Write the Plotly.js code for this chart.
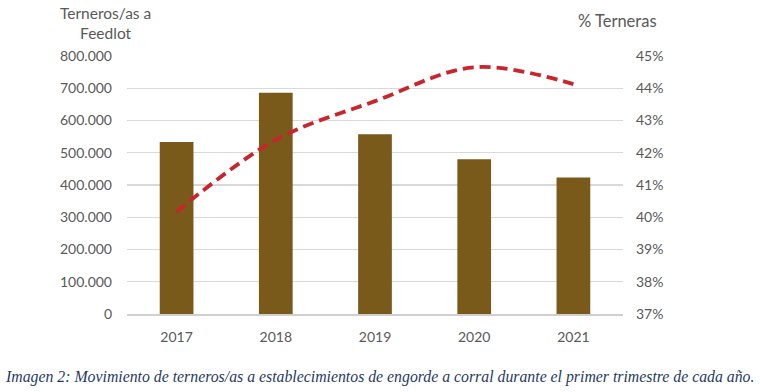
<!DOCTYPE html>
<html><head><meta charset="utf-8">
<script src="https://cdn.plot.ly/plotly-3.0.1.min.js"></script>
<style>body{margin:0;background:#fff}#c{width:760px;height:392px}</style>
</head><body><div id="c"></div>
<script>
const years = ['2017','2018','2019','2020','2021'];
const terneros = [533000, 686000, 557000, 480000, 423000];
const pctTerneras = [40.17, 42.4, 43.6, 44.65, 44.13];
const leftTitle = 'Terneros/as a<br>Feedlot';
const rightTitle = '% Terneras';
const caption = 'Imagen 2: Movimiento de terneros/as a establecimientos de engorde a corral durante el primer trimestre de cada año.';

const gray = '#595959';
const data = [
  {type:'bar', x:years, y:terneros, marker:{color:'#7a5a1a'}, yaxis:'y', hoverinfo:'skip'},
  {type:'scatter', mode:'lines', x:years, y:pctTerneras, yaxis:'y2',
   line:{color:'#c8262c', width:3.8, dash:'11px,6px', shape:'spline', smoothing:1}, hoverinfo:'skip'}
];
const layout = {
  width:760, height:392,
  margin:{l:127, r:137, t:56, b:78},
  paper_bgcolor:'#fff', plot_bgcolor:'#fff',
  showlegend:false, bargap:0.66,
  separators:',.',
  font:{family:'Lato, sans-serif', size:14, color:gray},
  xaxis:{showgrid:false, showline:true, linecolor:'#d0d0d0', linewidth:1.5, ticks:'', ticklabelstandoff:10, tickfont:{size:14, color:gray}},
  yaxis:{range:[0,800000], dtick:100000, tickformat:',d', gridcolor:'#d9d9d9', gridwidth:1.2, zeroline:false, ticks:'', ticklabelstandoff:14, tickfont:{size:14,color:gray}},
  yaxis2:{overlaying:'y', side:'right', range:[37,45], dtick:1, ticksuffix:'%', showgrid:false, zeroline:false, ticks:'', ticklabelstandoff:12, tickfont:{size:14,color:gray}},
  annotations:[
    {text:leftTitle, xref:'paper', yref:'paper', x:-0.044, y:1.0, yshift:54, xanchor:'center', yanchor:'top', showarrow:false, align:'center', font:{size:15.5,color:gray}},
    {text:rightTitle, xref:'paper', yref:'paper', x:0.988, y:1.0, yshift:47, xanchor:'center', yanchor:'top', showarrow:false, font:{size:16.5,color:gray}},
    {text:'<i>'+caption+'</i>', xref:'paper', yref:'paper', x:-0.25, y:0, yshift:-52, xanchor:'left', yanchor:'top', showarrow:false, font:{family:'Liberation Serif, serif', size:15.8, color:'#1f3a62'}}
  ]
};
Plotly.newPlot('c', data, layout, {staticPlot:true, displayModeBar:false});
</script></body></html>
